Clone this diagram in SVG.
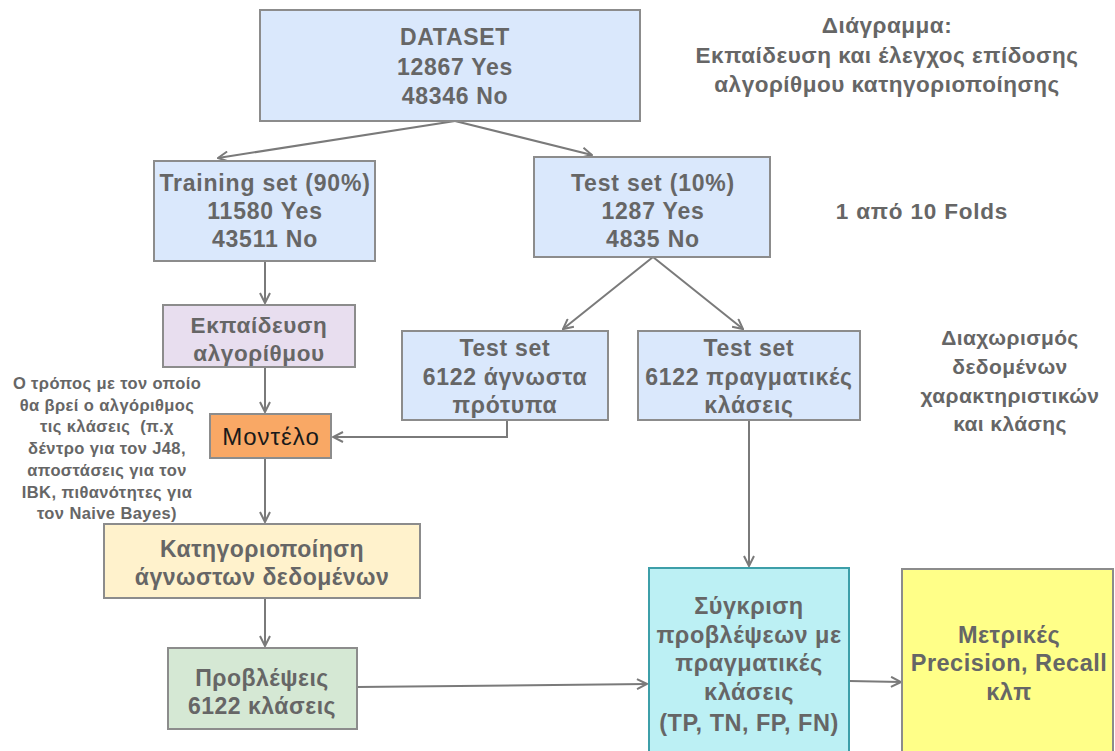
<svg xmlns="http://www.w3.org/2000/svg" width="1115" height="751" viewBox="0 0 1115 751">
<style>
.box{stroke:#8c8c8c;stroke-width:2}
.blue{fill:#dae8fc}
.t{font-family:"Liberation Sans",Arial,sans-serif;font-weight:bold;fill:#666;text-anchor:middle}
.c{fill:none;stroke:#7a7a7a;stroke-width:2}
</style>
<defs>
<marker id="arr" viewBox="0 0 12 12" refX="11" refY="6" markerWidth="12" markerHeight="12" markerUnits="userSpaceOnUse" orient="auto">
<path d="M1,1 L11,6 L1,11" fill="none" stroke="#7a7a7a" stroke-width="2"/>
</marker>
</defs>
<rect width="1115" height="751" fill="#fff"/>

<g id="connectors">
<line class="c" x1="455" y1="121" x2="218" y2="158" marker-end="url(#arr)"/>
<line class="c" x1="455" y1="121" x2="592" y2="155" marker-end="url(#arr)"/>
<line class="c" x1="265" y1="262" x2="265" y2="303" marker-end="url(#arr)"/>
<line class="c" x1="653" y1="257" x2="563" y2="329" marker-end="url(#arr)"/>
<line class="c" x1="653" y1="257" x2="743" y2="329" marker-end="url(#arr)"/>
<line class="c" x1="265" y1="368" x2="265" y2="412" marker-end="url(#arr)"/>
<polyline class="c" points="507,421 507,437 333,437" marker-end="url(#arr)"/>
<line class="c" x1="265" y1="459" x2="265" y2="522" marker-end="url(#arr)"/>
<line class="c" x1="265" y1="599" x2="265" y2="646" marker-end="url(#arr)"/>
<line class="c" x1="357" y1="687" x2="647" y2="684" marker-end="url(#arr)"/>
<line class="c" x1="749" y1="421" x2="749" y2="566" marker-end="url(#arr)"/>
<line class="c" x1="849" y1="681" x2="901" y2="682" marker-end="url(#arr)"/>
</g>

<g id="title">
<text class="t" font-size="22.5" letter-spacing="0.5"><tspan x="887" y="33">Διάγραμμα:</tspan><tspan x="887" y="63">Εκπαίδευση και έλεγχος επίδοσης</tspan><tspan x="887" y="92">αλγορίθμου κατηγοριοποίησης</tspan></text>
</g>

<g id="dataset">
<rect class="box blue" x="260" y="10" width="380" height="111"/>
<text class="t" font-size="23" letter-spacing="0.7"><tspan x="455" y="45">DATASET</tspan><tspan x="455" y="75">12867 Yes</tspan><tspan x="455" y="104">48346 No</tspan></text>
</g>

<g id="training">
<rect class="box blue" x="154" y="161" width="221" height="100"/>
<text class="t" font-size="23" letter-spacing="0.8"><tspan x="265" y="191">Training set (90%)</tspan><tspan x="265" y="219">11580 Yes</tspan><tspan x="265" y="247">43511 No</tspan></text>
</g>

<g id="testset">
<rect class="box blue" x="534" y="157" width="236" height="100"/>
<text class="t" font-size="23" letter-spacing="0.8"><tspan x="653" y="191">Test set (10%)</tspan><tspan x="653" y="219">1287 Yes</tspan><tspan x="653" y="247">4835 No</tspan></text>
</g>

<g id="folds">
<text class="t" font-size="22.5" letter-spacing="0.8" x="922" y="219">1 από 10 Folds</text>
</g>

<g id="training-algo">
<rect class="box" fill="#e8deef" x="163" y="305" width="192" height="62"/>
<text class="t" font-size="22.5" letter-spacing="0.6"><tspan x="259" y="333">Εκπαίδευση</tspan><tspan x="259" y="361">αλγορίθμου</tspan></text>
</g>

<g id="test-unknown">
<rect class="box blue" x="402" y="331" width="206" height="89"/>
<text class="t" font-size="23" letter-spacing="0.7"><tspan x="505" y="356">Test set</tspan><tspan x="505" y="385">6122 άγνωστα</tspan><tspan x="505" y="413">πρότυπα</tspan></text>
</g>

<g id="test-real">
<rect class="box blue" x="638" y="331" width="222" height="89"/>
<text class="t" font-size="23" letter-spacing="0.7"><tspan x="749" y="356">Test set</tspan><tspan x="749" y="385">6122 πραγματικές</tspan><tspan x="749" y="413">κλάσεις</tspan></text>
</g>

<g id="split-note">
<text class="t" font-size="21" letter-spacing="0.4"><tspan x="1010" y="345">Διαχωρισμός</tspan><tspan x="1010" y="374">δεδομένων</tspan><tspan x="1010" y="403">χαρακτηριστικών</tspan><tspan x="1010" y="431">και κλάσης</tspan></text>
</g>

<g id="model">
<rect class="box" fill="#f9a865" x="210" y="414" width="121" height="44"/>
<text font-family="Liberation Sans,Arial,sans-serif" font-size="24" letter-spacing="1" fill="#1a1a1a" text-anchor="middle" x="271" y="445">Μοντέλο</text>
</g>

<g id="model-note">
<text class="t" font-size="16.5" letter-spacing="0.4" style="white-space:pre"><tspan x="107" y="389">Ο τρόπος με τον οποίο</tspan><tspan x="107" y="411">θα βρεί ο αλγόριθμος</tspan><tspan x="107" y="432">τις κλάσεις  (π.χ</tspan><tspan x="107" y="454">δέντρο για τον J48,</tspan><tspan x="107" y="476">αποστάσεις για τον</tspan><tspan x="107" y="498">IBK, πιθανότητες για</tspan><tspan x="107" y="519">τον Naive Bayes)</tspan></text>
</g>

<g id="classification">
<rect class="box" fill="#fff2cc" x="104" y="524" width="316" height="74"/>
<text class="t" font-size="23" letter-spacing="0.5"><tspan x="262" y="557">Κατηγοριοποίηση</tspan><tspan x="262" y="585">άγνωστων δεδομένων</tspan></text>
</g>

<g id="predictions">
<rect class="box" fill="#d5e8d4" x="168" y="648" width="189" height="81"/>
<text class="t" font-size="23" letter-spacing="0.5"><tspan x="262" y="686">Προβλέψεις</tspan><tspan x="262" y="714">6122 κλάσεις</tspan></text>
</g>

<g id="comparison">
<rect fill="#bcf0f4" stroke="#3d9fa9" stroke-width="2" x="649" y="568" width="200" height="190"/>
<text class="t" font-size="23.5" letter-spacing="0.5"><tspan x="749" y="614">Σύγκριση</tspan><tspan x="749" y="643">προβλέψεων με</tspan><tspan x="749" y="671">πραγματικές</tspan><tspan x="749" y="700">κλάσεις</tspan><tspan x="749" y="731">(TP, TN, FP, FN)</tspan></text>
</g>

<g id="metrics">
<rect class="box" fill="#ffff88" stroke="#777" x="902" y="569" width="211" height="190"/>
<text class="t" font-size="23.5" letter-spacing="0.5"><tspan x="1009" y="643">Μετρικές</tspan><tspan x="1009" y="671">Precision, Recall</tspan><tspan x="1009" y="700">κλπ</tspan></text>
</g>
</svg>
